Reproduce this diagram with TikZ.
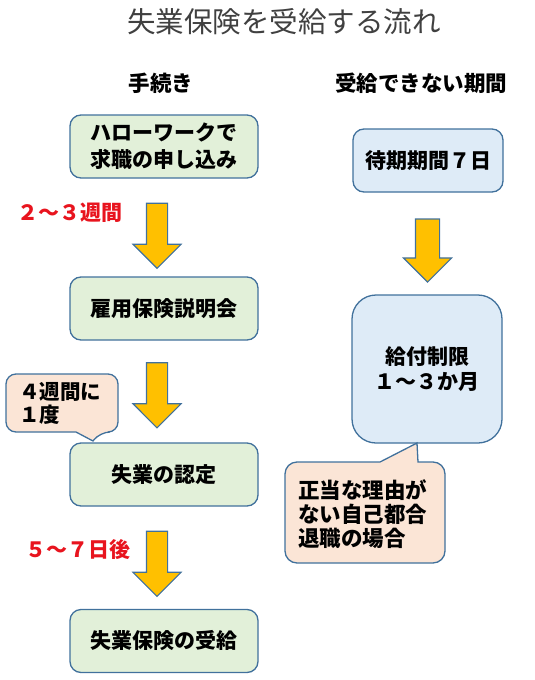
\documentclass[tikz,border=0pt]{standalone}
\usepackage{fontspec}
\setmainfont{Noto Sans CJK JP}
\usepackage{tikz}
\usetikzlibrary{shapes,shapes.arrows}

\definecolor{boxline}{RGB}{65,113,156}
\definecolor{stepgreen}{RGB}{226,240,217}
\definecolor{waitblue}{RGB}{222,235,247}
\definecolor{notepeach}{RGB}{251,229,214}
\definecolor{arrowgold}{RGB}{255,192,0}
\definecolor{labelred}{RGB}{232,20,30}
\definecolor{titlegray}{RGB}{64,64,64}

\begin{document}
\begin{tikzpicture}[x=1pt,y=-1pt,
      every node/.append style={font=\fontsize{21}{25}\selectfont\bfseries,inner sep=0pt},
      stepbox/.style={draw=boxline,fill=stepgreen,line width=1.3pt,rounded corners=11pt,minimum width=188pt,minimum height=63pt},
      waitbox/.style={draw=boxline,fill=waitblue,line width=1.3pt,rounded corners=11pt,minimum width=150pt,minimum height=63pt},
      notebox/.style={draw=boxline,fill=notepeach,line width=1.3pt},
      downarrow/.style={single arrow,draw=boxline,fill=arrowgold,line width=1.1pt,rotate=-90,minimum height=65pt,minimum width=47pt,inner sep=10pt,single arrow head extend=13.5pt},
      redlabel/.style={text=labelred},
      heading/.style={font=\fontsize{21.5}{25}\selectfont\bfseries}]
    \useasboundingbox (0,0) rectangle (535,680);
    \node (title) at (284,22) [font=\fontsize{28.5}{30}\selectfont,text=titlegray] {失業保険を受給する流れ};
    \node (procedure) at (161,83) [heading] {手続き};
    \node (nopay) at (421,83) [heading] {受給できない期間};
    % left column
    \node (apply) at (164,146.5) [stepbox,align=left,font=\fontsize{21}{27}\selectfont\bfseries] {ハローワークで\\求職の申し込み};
    \node (arr1) at (157,230.5) [downarrow] {};
    \node (weeks) at (70,213) [redlabel] {２～３週間};
    \node (briefing) at (164,308.5) [stepbox] {雇用保険説明会};
    \node (arr2) at (157,390) [downarrow] {};
    \node (certify) at (164,474.5) [stepbox] {失業の認定};
    \node (arr3) at (157,558.5) [downarrow] {};
    \node (days) at (78,550) [redlabel] {５～７日後};
    \node (receive) at (164,641) [stepbox] {失業保険の受給};
    % 4 weeks callout
    \draw[notebox] (62,374) [rounded corners=10pt] -- (118,374) -- (118,432) -- (100,432) [sharp corners] -- (93,441) -- (76,432) -- (40,432) [rounded corners=10pt] -- (6,432) -- (6,374) -- cycle;
    \node (every4) at (19,403.5) [anchor=west,align=left,font=\fontsize{20.5}{23}\selectfont\bfseries] {４週間に\\１度};
    % right column
    \node (waiting) at (428,160.5) [waitbox] {待期期間７日};
    \node (arr4) at (427.5,244.5) [downarrow,minimum height=63pt,inner sep=11.5pt,single arrow head extend=12pt] {};
    \node (restrict) at (427,369) [waitbox,minimum height=148pt,rounded corners=24pt,align=center] {給付制限\\１～３か月};
    % reason callout
    \draw[notebox] (285,512) [rounded corners=12pt] -- (285,462) -- (330,462) [sharp corners] -- (380,462) -- (417,443) -- (418,462) -- (430,462) [rounded corners=12pt] -- (445,462) -- (445,563) -- (285,563) -- cycle;
    \node (reason) at (298,514) [anchor=west,align=left,font=\fontsize{21.5}{24}\selectfont\bfseries] {正当な理由が\\ない自己都合\\退職の場合};
  \end{tikzpicture}
\end{document}
